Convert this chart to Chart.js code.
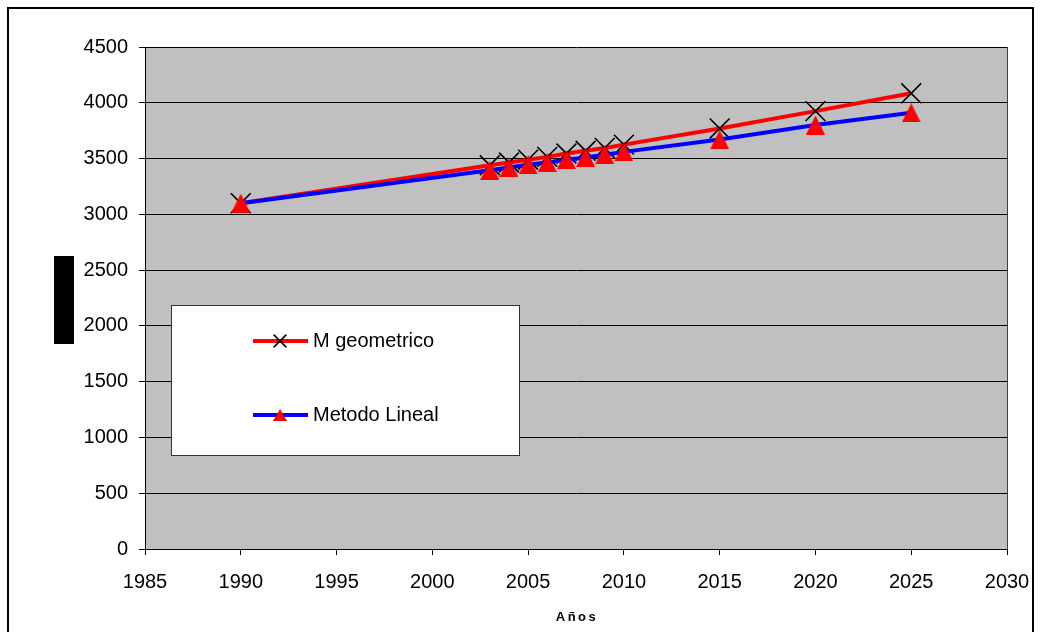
<!DOCTYPE html>
<html>
<head>
<meta charset="utf-8">
<title>Proyección de población</title>
<script src="https://cdn.jsdelivr.net/npm/chart.js@4/dist/chart.umd.min.js"></script>
<style>
  html, body { margin: 0; padding: 0; background: #ffffff; }
  #wrap { width: 1045px; height: 632px; position: relative; }
  canvas { display: block; }
</style>
</head>
<body>
<div id="wrap"><canvas id="chart" width="1045" height="632"></canvas></div>
<script>
// Años de la proyección
const anios = [1990, 2003, 2004, 2005, 2006, 2007, 2008, 2009, 2010, 2015, 2020, 2025];
// Método geométrico
const geometrico = [3100, 3440, 3465, 3490, 3515, 3545, 3570, 3595, 3625, 3770, 3925, 4085];
// Método lineal
const lineal = [3100, 3395, 3420, 3445, 3465, 3490, 3510, 3535, 3560, 3670, 3800, 3910];

const etiquetas = ['M geometrico', 'Metodo Lineal'];
const tituloX = 'Años';

const FONT = 'Liberation Sans, Arial, sans-serif';

function puntos(valores) {
  return anios.map((a, i) => ({ x: a, y: valores[i] }));
}

// Marcador triangular centrado en su caja (vértice arriba, base abajo)
function triangulo(w, h, color) {
  const c = document.createElement('canvas');
  c.width = w;
  c.height = h;
  const g = c.getContext('2d');
  g.fillStyle = color;
  g.beginPath();
  g.moveTo(w / 2, 0);
  g.lineTo(w, h);
  g.lineTo(0, h);
  g.closePath();
  g.fill();
  return c;
}
const trianguloGrande = triangulo(19, 19, '#FF0000');
const trianguloChico = triangulo(14, 12, '#FF0000');

// Fondo gris del área de trazado, marco exterior y recuadro del eje Y
const fondo = {
  id: 'fondo',
  beforeDraw(chart) {
    const { ctx, chartArea: a } = chart;
    ctx.save();
    ctx.fillStyle = '#ffffff';
    ctx.fillRect(0, 0, chart.width, chart.height);
    ctx.fillStyle = '#C0C0C0';
    ctx.fillRect(a.left, a.top, a.right - a.left, a.bottom - a.top);
    // marco del gráfico
    ctx.strokeStyle = '#000000';
    ctx.lineWidth = 2;
    ctx.strokeRect(8, 8, 1025, 640);
    // rótulo del eje Y (bloque negro)
    ctx.fillStyle = '#000000';
    ctx.fillRect(54, 256, 20, 88);
    ctx.restore();
  },
  afterDraw(chart) {
    const { ctx, chartArea: a } = chart;
    ctx.save();
    ctx.strokeStyle = '#404040';
    ctx.lineWidth = 1;
    ctx.beginPath();
    ctx.moveTo(Math.round(a.right) + 0.5, a.top);
    ctx.lineTo(Math.round(a.right) + 0.5, a.bottom);
    ctx.stroke();
    // título del eje X
    ctx.fillStyle = '#000000';
    ctx.font = 'bold 13px ' + FONT;
    ctx.letterSpacing = '2.5px';
    ctx.textAlign = 'center';
    ctx.textBaseline = 'middle';
    ctx.fillText(tituloX, (a.left + a.right) / 2 + 1, 617);
    ctx.restore();
  }
};

// Leyenda dentro del área de trazado
const leyenda = {
  id: 'leyenda',
  afterDraw(chart) {
    const { ctx } = chart;
    ctx.save();
    ctx.fillStyle = '#ffffff';
    ctx.fillRect(171, 305, 348, 150);
    ctx.strokeStyle = '#333333';
    ctx.lineWidth = 1;
    ctx.strokeRect(171.5, 305.5, 348, 150);

    const filas = [
      { ds: chart.data.datasets.find(d => d.label === etiquetas[0]), y: 341, estilo: 'crossRot', r: 9 },
      { ds: chart.data.datasets.find(d => d.label === etiquetas[1]), y: 415, estilo: trianguloChico, r: 7 }
    ];
    filas.forEach(f => {
      ctx.strokeStyle = f.ds.borderColor;
      ctx.lineWidth = 4;
      ctx.lineCap = 'butt';
      ctx.beginPath();
      ctx.moveTo(253, f.y);
      ctx.lineTo(308, f.y);
      ctx.stroke();
      ctx.fillStyle = f.ds.pointBackgroundColor;
      ctx.strokeStyle = f.ds.pointBorderColor;
      ctx.lineWidth = 1.5;
      Chart.helpers.drawPoint(ctx, {
        pointStyle: f.estilo,
        radius: f.r,
        borderWidth: 1.5,
        rotation: 0
      }, 280, f.y);
      ctx.fillStyle = '#000000';
      ctx.font = '20px ' + FONT;
      ctx.textBaseline = 'middle';
      ctx.textAlign = 'left';
      ctx.fillText(f.ds.label, 313, f.y);
    });
    ctx.restore();
  }
};

new Chart(document.getElementById('chart'), {
  type: 'line',
  data: {
    datasets: [
      {
        label: etiquetas[0],
        data: puntos(geometrico),
        borderColor: '#FF0000',
        borderWidth: 4,
        pointStyle: 'crossRot',
        pointRadius: 14,
        pointHoverRadius: 14,
        pointBorderColor: '#000000',
        pointBackgroundColor: '#000000',
        pointBorderWidth: 1.6,
        tension: 0,
        order: 1
      },
      {
        label: etiquetas[1],
        data: puntos(lineal),
        borderColor: '#0000FF',
        borderWidth: 4,
        pointStyle: trianguloGrande,
        pointRadius: 10,
        pointHoverRadius: 10,
        pointBorderColor: '#FF0000',
        pointBackgroundColor: '#FF0000',
        pointBorderWidth: 1,
        tension: 0,
        order: 0
      }
    ]
  },
  options: {
    responsive: false,
    animation: false,
    events: [],
    layout: { padding: { top: 47, right: 38, left: 0, bottom: 0 } },
    plugins: {
      legend: { display: false },
      tooltip: { enabled: false }
    },
    scales: {
      x: {
        type: 'linear',
        min: 1985,
        max: 2030,
        afterFit(s) { s.height = 83; },
        ticks: {
          stepSize: 5,
          color: '#000000',
          padding: 15,
          maxRotation: 0,
          font: { family: FONT, size: 20 },
          callback: v => String(v)
        },
        grid: {
          drawOnChartArea: false,
          drawTicks: true,
          tickLength: 6,
          color: '#000000'
        },
        border: { display: true, color: '#000000', width: 1 },
        title: { display: false }
      },
      y: {
        min: 0,
        max: 4500,
        afterFit(s) { s.width = 145; },
        ticks: {
          stepSize: 500,
          color: '#000000',
          padding: 11,
          font: { family: FONT, size: 20 },
          callback: v => String(v)
        },
        grid: {
          drawOnChartArea: true,
          drawTicks: true,
          tickLength: 6,
          color: '#000000',
          lineWidth: 1
        },
        border: { display: true, color: '#000000', width: 1 }
      }
    }
  },
  plugins: [fondo, leyenda]
});
</script>
</body>
</html>
